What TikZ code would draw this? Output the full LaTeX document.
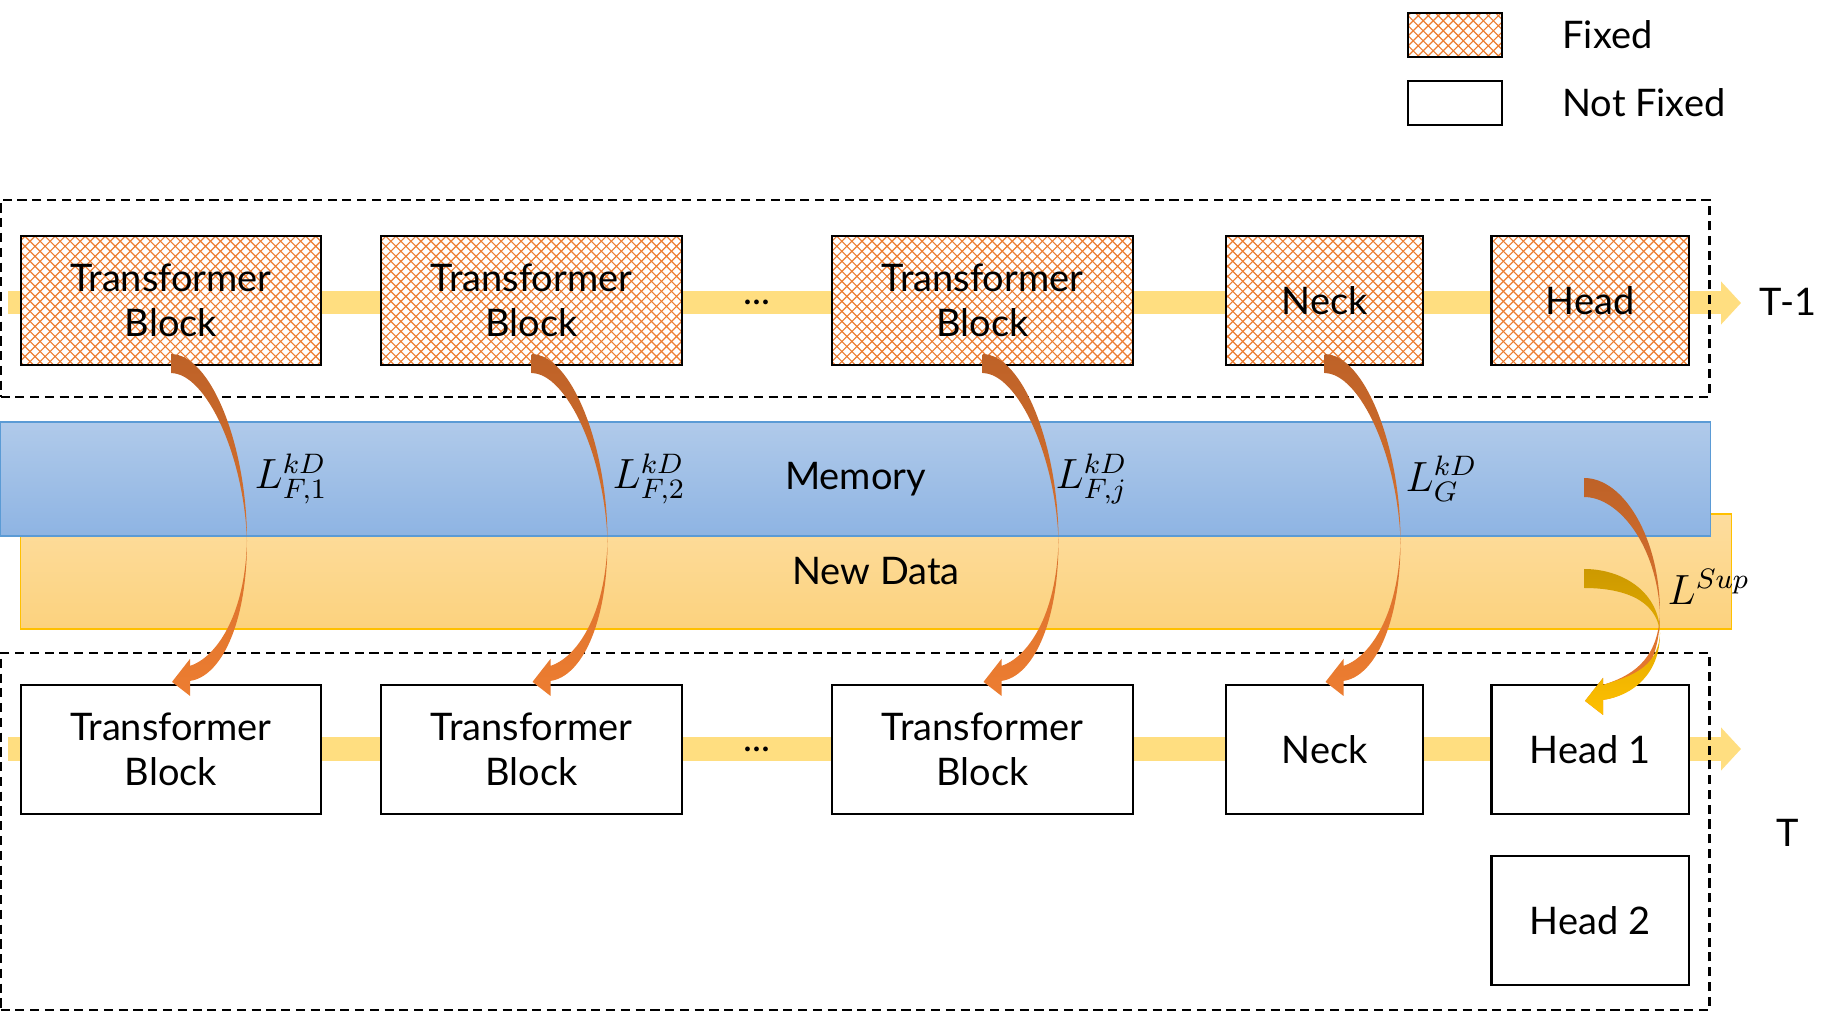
\documentclass[tikz,border=0pt]{standalone}
\usepackage{fontspec}
\setmainfont{Lato}
\usepackage{tikz}
\usetikzlibrary{calc,arrows.meta,patterns,positioning}
\definecolor{fixorange}{RGB}{237,125,49}
\definecolor{kddark}{RGB}{190,98,40}
\definecolor{golddark}{RGB}{204,153,0}
\definecolor{goldlight}{RGB}{255,192,0}
\definecolor{baryellow}{RGB}{255,222,128}
\definecolor{memtop}{RGB}{176,202,234}
\definecolor{membot}{RGB}{142,180,227}
\definecolor{memline}{RGB}{91,155,213}
\definecolor{newtop}{RGB}{253,221,158}
\definecolor{newbot}{RGB}{252,210,126}
\definecolor{newline}{RGB}{255,192,0}

% orange lattice for the fixed blocks
\pgfdeclarepatternformonly{trellis}{\pgfpoint{-0.5pt}{-0.5pt}}{\pgfpoint{3.35pt}{3.35pt}}{\pgfpoint{2.85pt}{2.85pt}}{%
  \pgfsetlinewidth{0.33pt}
  \pgfpathmoveto{\pgfpointorigin}\pgfpathlineto{\pgfpoint{2.85pt}{2.85pt}}
  \pgfpathmoveto{\pgfpoint{0pt}{2.85pt}}\pgfpathlineto{\pgfpoint{2.85pt}{0pt}}
  \pgfusepath{stroke}}

\tikzset{
  block/.style={draw=black, line width=0.6pt, fill=white, minimum height=1.29cm, align=center, inner sep=0pt},
  fixed/.style={block, preaction={fill=white}, fill=none, pattern=trellis, pattern color=fixorange},
  wide/.style={minimum width=3cm},
  narrow/.style={minimum width=1.97cm},
  flowbar/.style={draw=baryellow, line width=0.23cm, -{Triangle[length=0.2cm, width=0.42cm]}},
  dashbox/.style={draw=black, line width=0.6pt, dash pattern=on 2.6pt off 1.6pt, inner sep=0pt},
  memband/.style={draw=memline, line width=0.4pt, top color=memtop, bottom color=membot, inner sep=0pt},
  newband/.style={draw=newline, line width=0.4pt, top color=newtop, bottom color=newbot, inner sep=0pt},
  losslabel/.style={anchor=west, inner sep=0pt, font=\fontsize{11.5}{14}\selectfont},
  kdshade/.style={top color=kddark, bottom color=fixorange},
  supshade/.style={top color=golddark, bottom color=goldlight},
}

% curved distillation arrow: style, start, tip, pinch position, upper and lower handles
\newcommand{\kdarrow}[6]{%
  \shade[#1]
    ($(#2)+(0,-12)$) .. controls +(40,0) and +(0,-#5) ..
    ($(#2)!#4!(#3)+(76,0)$) .. controls +(0,#6) and +(30,-4) ..
    ($(#3)+(19,-3)$) -- ($(#3)+(19,12)$) -- ($(#3)+(1,-2)$) -- ($(#3)+(19,-25)$) -- ($(#3)+(19,-18)$)
    .. controls +(25,-8) and +(-2,0.9*#6) .. ($(#2)!#4!(#3)+(76,0)$)
    .. controls +(-3,-0.9*#5) and +(35,0) .. ($(#2)+(0,7)$) -- cycle;}

\begin{document}
\begin{tikzpicture}[x=0.01cm, y=-0.01cm, every node/.style={font=\fontsize{10.8}{12.8}\selectfont}]
\useasboundingbox (0,0) rectangle (1842,1013);

% legend
\node[fixed, minimum width=0.94cm, minimum height=0.44cm] (legfix) at (1455,35) {};
\node[anchor=west] (legfixtext) at (1550,35) {Fixed};
\node[block, minimum width=0.94cm, minimum height=0.44cm] (legfree) at (1455,103) {};
\node[anchor=west] (legfreetext) at (1550,103) {Not Fixed};

% data flow
\coordinate (in1) at (8,303);
\coordinate (out1) at (1741,303);
\coordinate (in2) at (8,749);
\coordinate (out2) at (1741,749);
\draw[flowbar] (in1) -- (out1);
\draw[flowbar] (in2) -- (out2);

% old model (T-1)
\node[dashbox, minimum width=17.08cm, minimum height=1.97cm] (oldbox) at (855,298.5) {};
\node[fixed, wide] (f1) at (171,300.5) {Transformer\\Block};
\node[fixed, wide] (f2) at (531.5,300.5) {Transformer\\Block};
\node (dots1) at (757,302) {...};
\node[fixed, wide] (f3) at (982.5,300.5) {Transformer\\Block};
\node[fixed, narrow] (fneck) at (1324.5,300.5) {Neck};
\node[fixed, narrow] (fhead) at (1590,300.5) {Head};
\node (told) at (1788,302) {T-1};

% new model (T)
\node[dashbox, minimum width=17.08cm, minimum height=3.57cm] (newbox) at (855,831.5) {};
\node[block, wide] (n1) at (171,749.5) {Transformer\\Block};
\node[block, wide] (n2) at (531.5,749.5) {Transformer\\Block};
\node (dots2) at (757,749) {...};
\node[block, wide] (n3) at (982.5,749.5) {Transformer\\Block};
\node[block, narrow] (nneck) at (1324.5,749.5) {Neck};
\node[block, narrow] (h1) at (1590,749.5) {Head 1};
\node[block, narrow, below=0.4cm of h1] (h2) {Head 2};
\node (tnew) at (1788,833) {T};

% data
\node[newband, minimum width=17.10cm, minimum height=1.15cm] (newdata) at (876,571.5) {New Data};
\node[memband, minimum width=17.09cm, minimum height=1.14cm] (mem) at (855.5,479) {Memory};

% losses
\node[losslabel] (l1) at (254,479) {$L_{F,1}^{kD}$};
\node[losslabel] (l2) at (612,479) {$L_{F,2}^{kD}$};
\node[losslabel] (lj) at (1055,479) {$L_{F,j}^{kD}$};
\node[losslabel] (lg) at (1405,479) {$L_{G}^{kD}$};
\node[losslabel] (lsup) at (1667,587) {$L^{Sup}$};

\kdarrow{kdshade}{f1.south}{n1.north}{0.55}{95}{85}
\kdarrow{kdshade}{f2.south}{n2.north}{0.55}{95}{85}
\kdarrow{kdshade}{f3.south}{n3.north}{0.55}{95}{85}
\kdarrow{kdshade}{fneck.south}{nneck.north}{0.55}{95}{85}

\coordinate (supmem) at (1584,490);
\coordinate (supnew) at (1584,581);
\coordinate (suptip) at ($(h1.north)+(-6,19)$);
\kdarrow{kdshade}{supmem}{suptip}{0.58}{75}{55}
\kdarrow{supshade}{supnew}{suptip}{0.43}{40}{40}
\end{tikzpicture}
\end{document}
